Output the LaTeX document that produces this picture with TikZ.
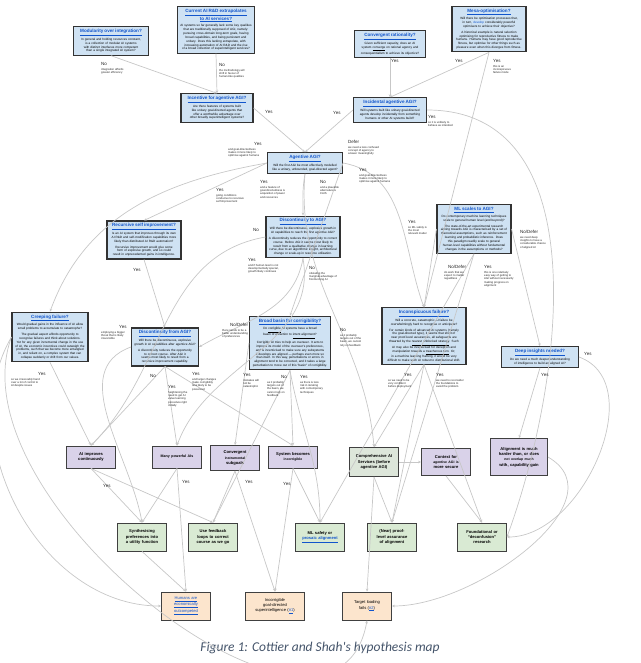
\documentclass[tikz,border=0pt]{standalone}
\usepackage{fontspec}
\setmainfont{Liberation Sans}
\newfontfamily\capfont{Carlito}
\usetikzlibrary{arrows.meta,positioning}
\definecolor{qblue}{HTML}{CFE2F3}
\definecolor{tblue}{HTML}{1155CC}
\definecolor{opurp}{HTML}{D9D2E9}
\definecolor{ogreen}{HTML}{D9EAD3}
\definecolor{oorange}{HTML}{FCE5CD}
\definecolor{cgreen}{HTML}{DDE6DA}
\definecolor{capc}{HTML}{44546A}
\hyphenpenalty=10000
\newcommand{\qtitle}[1]{{\fontsize{4.6}{5.6}\selectfont\bfseries\color{tblue}\underline{#1}}\\[1.5pt]}
\newcommand{\ynfontx}{\fontsize{4.5}{5.2}\selectfont}
\newcommand{\smfontx}{\fontsize{2.8}{3.3}\selectfont}
\tikzset{
 qbox/.style={draw=black!80,line width=1.1pt,fill=qblue,align=center,inner sep=2.5pt,font=\fontsize{3.1}{3.85}\selectfont},
 obox/.style={draw=black!75,line width=0.9pt,align=center,inner sep=1.5pt,font=\fontsize{4.1}{5.3}\selectfont\bfseries,text width=46pt,minimum height=22pt},
 pbox/.style={obox,fill=opurp},
 gbox/.style={obox,fill=ogreen},
 rbox/.style={obox,fill=oorange},
 ed/.style={draw=black!22,line width=0.7pt,-{Stealth[length=3pt,width=2.6pt]}},
 lab/.style={align=left,inner sep=0pt,anchor=north west,text=black!85,font=\smfontx},
 yn/.style={inner sep=0pt,anchor=north west,text=black!85,font=\ynfontx},
}
\begin{document}
\begin{tikzpicture}[x=1pt,y=-1pt]
\useasboundingbox (0,0) rectangle (640,663);
% questions
\node[qbox,text width=70pt] (mod) at (111,41) {\qtitle{Modularity over integration?}In general and holding resources constant, is a collection of modular AI systems with distinct interfaces more competent than a single integrated AI system?};
\node[qbox,text width=72pt] (cur) at (216,30) {{\fontsize{4.6}{5.6}\selectfont\bfseries\color{tblue}\underline{Current AI R\&D extrapolates}}\\{\fontsize{4.6}{5.6}\selectfont\bfseries\color{tblue}\underline{to AI services?}}\\[1.5pt]AI systems so far generally lack some key qualities that are traditionally supposed of AGI, namely: pursuing cross-domain long-term goals, having broad capabilities, and being persistent and unitary. Does this lacking extrapolate, with increasing automation of AI R\&D and the rise of a broad collection of superintelligent services?};
\node[qbox,text width=66pt] (conv) at (390,44) {\qtitle{Convergent rationality?}Given sufficient capacity, does an AI system \underline{converge} on rational agency and consequentialism to achieve its objective?};
\node[qbox,text width=69pt] (mesa) at (489,29) {\qtitle{Mesa-optimisation?}Will there be optimisation processes that, in turn, \textcolor{tblue}{develop} considerably powerful optimisers to achieve their objective?\\[2pt]A historical example is natural selection optimising for reproductive fitness to make humans. Humans may have good reproductive fitness, but optimise for other things such as pleasure even when this diverges from fitness.};
\node[qbox,text width=67pt] (inc) at (217,108) {\qtitle{Incentive for agentive AGI?}Are there features of systems built like unitary goal-directed agents that offer a worthwhile advantage over other broadly superintelligent systems?};
\node[qbox,text width=68pt] (incid) at (390,110) {\qtitle{Incidental agentive AGI?}Will systems built like unitary goal-directed agents develop incidentally from something humans or other AI systems build?};
\node[qbox,text width=70pt] (agent) at (305,163) {\qtitle{Agentive AGI?}Will the first AGI be most effectively modelled like a unitary, unbounded, goal-directed agent?};
\node[qbox,text width=69pt] (rec) at (144,240) {\qtitle{Recursive self improvement?}Is an AI system that improves through its own AI R\&D and self-modification capabilities more likely than distributed AI R\&D automation?\\[2pt]Recursive improvement would give some form of explosive growth, and so could result in unprecedented gains in intelligence.};
\node[qbox,text width=69pt] (dto) at (303,237) {\qtitle{Discontinuity to AGI?}Will there be discontinuous, explosive growth in AI capabilities to reach the first agentive AGI?\\[2pt]A discontinuity reduces the opportunity to correct course. Before AGI it seems most likely to result from a qualitative change in learning curve, due to an algorithmic insight, architectural change or scale-up in resource utilisation.};
\node[qbox,text width=69pt] (ml) at (474,229) {\qtitle{ML scales to AGI?}Do contemporary machine learning techniques scale to general human level (and beyond)?\\[2pt]The state-of-the-art experimental research aiming towards AGI is characterised by a set of theoretical assumptions, such as reinforcement learning and probabilistic inference. Does this paradigm readily scale to general human-level capabilities without fundamental changes in the assumptions or methods?};
\node[qbox,text width=71pt] (creep) at (50,337) {\qtitle{Creeping failure?}Would gradual gains in the influence of AI allow small problems to accumulate to catastrophe?\\[2pt]The gradual aspect affords opportunity to recognise failures and think about solutions. Yet for any given incremental change in the use of AI, the economic incentives could outweigh the problems, such that we become more entangled in, and reliant on, a complex system that can collapse suddenly or drift from our values.};
\node[qbox,text width=62pt] (dfrom) at (165,347) {\qtitle{Discontinuity from AGI?}Will there be discontinuous, explosive growth in AI capabilities after agentive AGI?\\[2pt]A discontinuity reduces the opportunity to correct course. After AGI it seems most likely to result from a recursive improvement capability.};
\node[qbox,text width=76pt] (basin) at (290,343) {\qtitle{Broad basin for corrigibility?}Do \underline{corrigible} AI systems have a broad basin of attraction to \underline{intent alignment}?\\[2pt]Corrigible AI tries to help an overseer. It acts to improve its model of the overseer's preferences, and is incentivised to make sure any subsystems it develops are aligned --- perhaps even more so than itself. In this way, perturbations or errors in alignment tend to be corrected, and it takes a large perturbation to move out of this ``basin'' of corrigibility.};
\node[qbox,text width=79pt] (incon) at (424,336) {\qtitle{Inconspicuous failure?}Will a concrete, catastrophic AI failure be overwhelmingly hard to recognise or anticipate?\\[2pt]For certain kinds of advanced AI systems (namely the goal-directed type), it seems that short of near proof-level assurances, all safeguards are thwarted by the \underline{nearest unblocked strategy}. Such AI may also be incentivised for deception and manipulation towards a \underline{treacherous turn}. Or, in a machine learning framing, it would be very difficult to make such AI robust to distributional shift.};
\node[qbox,text width=72pt] (deep) at (540,357) {\qtitle{Deep insights needed?}Do we need a much deeper understanding of intelligence to build an aligned AI?};
% outcomes
\node[pbox] (aic) at (91,457) {AI improves\\continuously};
\node[pbox] (many) at (177,457) {\fontsize{3.6}{4.5}\selectfont Many powerful AIs};
\node[pbox,minimum height=25pt] (cis) at (235,458) {Convergent\\{\fontsize{3.4}{4.5}\selectfont instrumental}\\subgoals};
\node[pbox] (sbi) at (293,457) {System becomes\\{\fontsize{3.4}{4.5}\selectfont incorrigible}};
\node[obox,fill=cgreen,minimum height=29pt] (cais) at (374,462) {Comprehensive AI Services (before agentive AGI)};
\node[pbox,minimum height=27pt] (ctx) at (446,462) {Context for\\{\fontsize{3.4}{4.5}\selectfont agentive AGI is}\\more secure};
\node[pbox,text width=54pt,minimum height=37pt] (alh) at (519,457) {Alignment is much harder than, or does\\{\fontsize{3.4}{4.5}\selectfont not overlap much}\\with, capability gain};
\node[gbox,minimum height=28pt] (syn) at (142,537) {Synthesising preferences into a utility function};
\node[gbox,minimum height=28pt] (ufb) at (213,537) {Use feedback loops to correct course as we go};
\node[gbox,minimum height=28pt] (mls) at (320,537) {ML safety or\\\textcolor{tblue}{\underline{prosaic alignment}}};
\node[gbox,minimum height=28pt] (npl) at (392,537) {(Near) proof-level assurance of alignment};
\node[gbox,minimum height=28pt] (fdr) at (482,537) {Foundational or ``deconfusion'' research};
\node[rbox,minimum height=28pt,font=\fontsize{4.1}{5.3}\selectfont] (hum) at (186,606) {\textcolor{tblue}{\underline{Humans are}}\\\textcolor{tblue}{\underline{economically}}\\\textcolor{tblue}{\underline{outcompeted}}};
\node[rbox,minimum height=28pt,text width=56pt,font=\fontsize{4.1}{5.3}\selectfont] (igs) at (275,606) {Incorrigible\\goal-directed\\superintelligence (\textcolor{tblue}{\underline{\#1}})};
\node[rbox,minimum height=28pt,font=\fontsize{4.1}{5.3}\selectfont] (tlf) at (367,606) {Target loading\\fails (\textcolor{tblue}{\underline{\#2}})};
\node[font=\capfont\itshape\fontsize{13.5}{16}\selectfont,text=capc] (cap) at (320,648) {Figure 1: Cottier and Shah's hypothesis map};
% edges
\draw[ed] (mod.south) -- (inc.north);
\draw[ed] (cur.south) -- (inc.north);
\draw[ed] (inc.east) -- (agent.north);
\draw[ed] (conv.south) -- (incid.north);
\draw[ed] (mesa.south) -- (incid.north);
\draw[ed] (mesa.south) -- (incon.north);
\draw[ed] (incid.west) -- (agent.north);
\draw[ed] (incid.east) to[out=0,in=70] (fdr.east);
\draw[ed] (agent.west) to[out=190,in=70] (creep.north);
\draw[ed] (agent.west) -- (rec.north);
\draw[ed] (agent.south) to[out=260,in=90] (dto.north);
\draw[ed] (agent.south) to[out=-95,in=95] (cais.north);
\draw[ed] (agent.east) -- (basin.north);
\draw[ed] (agent.east) to[out=-10,in=110] (incon.north);
\draw[ed] (dto.west) to[out=190,in=45] (aic.north);
\draw[ed] (dto.south) to[out=-80,in=70] (many.north);
\draw[ed] (dto.south) to[out=-100,in=30] (dfrom.east);
\draw[ed] (rec.south) -- (dfrom.north);
\draw[ed] (ml.west) -- (incon.north);
\draw[ed] (ml.south) -- (mls.north);
\draw[ed] (ml.south) -- (npl.north);
\draw[ed] (ml.east) -- (deep.north);
\draw[ed] (creep.south) -- (aic.north);
\draw[ed] (creep.west) to[out=240,in=180] (hum.west);
\draw[ed] (dfrom.south) -- (aic.north);
\draw[ed] (dfrom.south) -- (many.north);
\draw[ed] (dfrom.south) -- (sbi.north);
\draw[ed] (dfrom.west) to[out=200,in=100] (syn.north);
\draw[ed] (basin.south) -- (sbi.north);
\draw[ed] (basin.south) -- (ufb.north);
\draw[ed] (basin.south) to[out=-80,in=90] (mls.north);
\draw[ed] (basin.west) -- (cis.north);
\draw[ed] (incon.south) -- (npl.north);
\draw[ed] (incon.south) -- (fdr.north);
\draw[ed] (incon.south) -- (cais.north);
\draw[ed] (deep.south) -- (alh.north);
\draw[ed] (deep.east) to[out=-20,in=0] (fdr.east);
\draw[ed] (aic.south) -- (syn.north);
\draw[ed] (aic.south) -- (ufb.north);
\draw[ed] (many.south) -- (syn.north);
\draw[ed] (many.south) -- (hum.north);
\draw[ed] (cis.south) -- (ufb.north);
\draw[ed] (cis.south) -- (igs.north);
\draw[ed] (sbi.south) -- (igs.north);
\draw[ed] (sbi.south) -- (mls.north);
\draw[ed] (cais.east) -- (ctx.west);
\draw[ed] (cais.south) -- (npl.north);
\draw[ed] (cais.south) -- (tlf.north);
\draw[ed] (ctx.south) -- (fdr.north);
\draw[ed] (syn.south) -- (hum.north);
\draw[ed] (alh.east) to[out=-30,in=0] (tlf.east);
\draw[ed] (creep.west) to[out=250,in=-100] (tlf.south);
% labels
\node[yn] at (101,62) {No};
\node[lab] at (101,68) {integration affords\\greater efficiency};
\node[yn] at (219,63) {No};
\node[lab] at (219,69) {the methodology will\\shift in favour of\\human-like qualities};
\node[yn] at (265,110) {Yes};
\node[yn] at (391,59) {Yes};
\node[yn] at (455,59) {Yes};
\node[yn] at (493,59) {Yes};
\node[lab] at (493,65) {this is an\\inconspicuous\\failure mode};
\node[yn] at (333,111) {Yes};
\node[yn] at (428,115) {Yes};
\node[lab] at (428,121) {so it is unlikely to\\behave as intended};
\node[yn] at (348,140) {Defer};
\node[lab] at (348,146) {we need a less confused\\concept of agency to\\answer meaningfully};
\node[yn] at (254,142) {Yes};
\node[lab] at (228,148) {and goal-directedness\\makes it more likely to\\optimise against humans};
\node[yn] at (359,168) {Yes};
\node[lab] at (359,174) {and goal-directedness\\makes it more likely to\\optimise against humans};
\node[yn] at (216,188) {Yes};
\node[lab] at (216,194) {going conditions\\conducive to recursive\\self improvement};
\node[yn] at (260,180) {Yes};
\node[lab] at (260,186) {and a feature of\\goal-directedness is\\acquisition of power\\and resources};
\node[yn] at (320,180) {No};
\node[lab] at (320,186) {and a plausible\\alternative is\\CAIS};
\node[yn] at (253,228) {No};
\node[yn] at (248,258) {Yes};
\node[lab] at (248,264) {and if human level is not\\developmentally special,\\growth likely continues};
\node[yn] at (309,266) {No};
\node[lab] at (309,272) {obviating the\\marginal advantage of\\frontrunning AI};
\node[yn] at (408,220) {Yes};
\node[lab] at (408,226) {so ML safety is\\the most\\relevant matter};
\node[yn] at (520,230) {No/Defer};
\node[lab] at (520,236) {we need deep\\insights to have a\\considerable chance\\of aligned AI};
\node[yn] at (448,265) {No/Defer};
\node[lab] at (444,271) {do work that we\\expect to matter\\regardless};
\node[yn] at (484,265) {Yes};
\node[lab] at (484,271) {this is one relatively\\easy way of getting to\\AGI without necessarily\\making progress on\\alignment};
\node[yn] at (133,268) {Yes};
\node[yn] at (119,325) {Yes};
\node[lab] at (101,331) {employing a bigger\\threat that is likely\\irreversible};
\node[yn] at (230,323) {No/Defer};
\node[lab] at (222,329) {there needs to be a\\better understanding\\of preferences};
\node[yn] at (38,372) {Yes};
\node[lab] at (11,378) {so we irrevocably hand\\over a lot of control to\\AI despite issues};
\node[yn] at (150,374) {No};
\node[yn] at (192,372) {Yes};
\node[lab] at (192,378) {and larger changes\\make corrigibility\\less likely to be\\preserved};
\node[yn] at (168,385) {Yes};
\node[lab] at (168,391) {heightening the\\need to get AI\\value learning\\procedure right\\initially};
\node[yn] at (243,373) {Yes};
\node[lab] at (243,379) {mistakes will\\not be\\catastrophic};
\node[yn] at (281,375) {No};
\node[lab] at (267,381) {as it probably\\targets out of\\the basin, we\\cannot rely on\\feedback};
\node[yn] at (300,375) {Yes};
\node[lab] at (300,381) {as there is less\\risk in iterating\\with contemporary\\techniques};
\node[yn] at (340,328) {No};
\node[lab] at (340,334) {as it probably\\targets out of the\\basin, we cannot\\rely on feedback};
\node[yn] at (404,373) {Yes};
\node[lab] at (388,379) {so we need to be\\very confident\\before deployment};
\node[yn] at (436,373) {Yes};
\node[lab] at (436,379) {we need to reconsider\\the foundations to\\avoid the problem};
\node[yn] at (584,352) {Yes};
\node[yn] at (541,373) {Yes};
\node[yn] at (103,484) {Yes};
\node[yn] at (182,480) {Yes};
\node[yn] at (245,480) {Yes};
\node[yn] at (283,482) {Yes};
\end{tikzpicture}
\end{document}
